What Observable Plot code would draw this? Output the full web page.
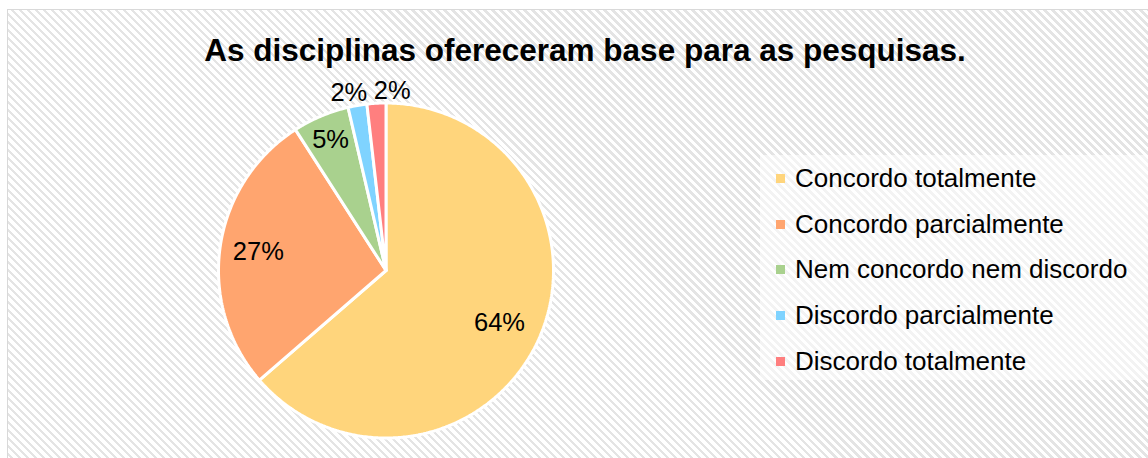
<!DOCTYPE html>
<html>
<head>
<meta charset="utf-8">
<script src="https://cdn.jsdelivr.net/npm/d3@7"></script>
<script src="https://cdn.jsdelivr.net/npm/@observablehq/plot@0.6"></script>
<style>
  html, body { margin: 0; padding: 0; background: #ffffff; }
  #wrap { position: relative; width: 1148px; height: 458px; overflow: hidden; background: #ffffff;
          font-family: "Liberation Sans", Arial, sans-serif; }
  #hatch { position: absolute; left: 7px; top: 9px; width: 1160px; height: 470px;
           border: 1.5px solid #d9d9d9;
           background: repeating-linear-gradient(45deg, #e4e4e4 0px, #e4e4e4 2.5px, #ffffff 2.5px, #ffffff 5.66px); }
  #legendbox { position: absolute; left: 760px; top: 155px; width: 400px; height: 225px;
               background: rgba(255,255,255,0.55); }
  #chart { position: absolute; left: 0; top: 0; }
  #title { position: absolute; left: 0; width: 1170px; top: 32px; line-height: 36px; text-align: center;
           font-weight: bold; font-size: 31.5px; color: #000; white-space: nowrap; }
  #legend { position: absolute; left: 776px; top: 156px; }
  .item { display: flex; align-items: center; height: 45.6px; font-size: 26px; color: #000; white-space: nowrap; }
  .sw { width: 9px; height: 9px; margin-right: 10px; margin-top: 0px; flex: none; }
</style>
</head>
<body>
<div id="wrap">
  <div id="hatch"></div>
  <div id="legendbox"></div>
  <div id="chart"></div>
  <div id="title"></div>
  <div id="legend"></div>
</div>
<script>
const title = "As disciplinas ofereceram base para as pesquisas.";
const categories = ["Concordo totalmente", "Concordo parcialmente", "Nem concordo nem discordo", "Discordo parcialmente", "Discordo totalmente"];
const counts = [35, 15, 3, 1, 1];
const colors = ["#FFD57C", "#FFA56F", "#A9D18E", "#7FD3FF", "#FF7F7F"];

const W = 1148, H = 458;
const cx = 385.5, cy = 270, R = 167.5;

const total = d3.sum(counts);
const arcs = d3.pie().sort(null).value(d => d)(counts);

// Polygon vertices for each slice in unit-circle coordinates (y up)
const pts = [];
arcs.forEach((a, i) => {
  const cat = categories[i];
  pts.push({cat, x: 0, y: 0});
  const n = Math.max(4, Math.ceil((a.endAngle - a.startAngle) / 0.01));
  for (let k = 0; k <= n; k++) {
    const t = a.startAngle + (a.endAngle - a.startAngle) * k / n;
    pts.push({cat, x: Math.sin(t), y: Math.cos(t)});
  }
  pts.push({cat, x: 0, y: 0});
});

const labels = arcs.map((a, i) => {
  const pct = Math.round(counts[i] / total * 100);
  const mid = (a.startAngle + a.endAngle) / 2;
  const outside = pct < 4;
  const r = outside ? 1.075 : (pct > 50 ? 0.745 : (pct > 10 ? 0.77 : 0.85));
  return {cat: categories[i], text: pct + "%", x: Math.sin(mid) * r, y: Math.cos(mid) * r, outside, i};
});
const inner = labels.filter(d => !d.outside);
const outer = labels.filter(d => d.outside);
const outerLeft = outer.slice(0, 1);
const outerRight = outer.slice(1);

const plot = Plot.plot({
  width: W, height: H,
  margin: 0,
  style: {background: "transparent", fontFamily: "Liberation Sans, Arial, sans-serif"},
  x: {domain: [-cx / R, (W - cx) / R], range: [0, W], axis: null},
  y: {domain: [-(H - cy) / R, cy / R], range: [H, 0], axis: null},
  color: {domain: categories, range: colors},
  marks: [
    Plot.line(pts, {x: "x", y: "y", z: "cat", fill: "cat", stroke: "#ffffff", strokeWidth: 3, strokeLinejoin: "miter", curve: "linear"}),
    Plot.text(inner, {x: "x", y: "y", text: "text", fontSize: 25.5, fill: "#000"}),
    Plot.text(outerLeft, {x: "x", y: "y", text: "text", fontSize: 25.5, fill: "#000", textAnchor: "end", dx: 12}),
    Plot.text(outerRight, {x: "x", y: "y", text: "text", fontSize: 25.5, fill: "#000", textAnchor: "start", dx: -2})
  ]
});
document.getElementById("chart").appendChild(plot);
document.getElementById("title").textContent = title;

const leg = document.getElementById("legend");
categories.forEach((c, i) => {
  const row = document.createElement("div");
  row.className = "item";
  const sw = document.createElement("span");
  sw.className = "sw";
  sw.style.background = colors[i];
  const tx = document.createElement("span");
  tx.textContent = c;
  row.appendChild(sw); row.appendChild(tx);
  leg.appendChild(row);
});
</script>
</body>
</html>
